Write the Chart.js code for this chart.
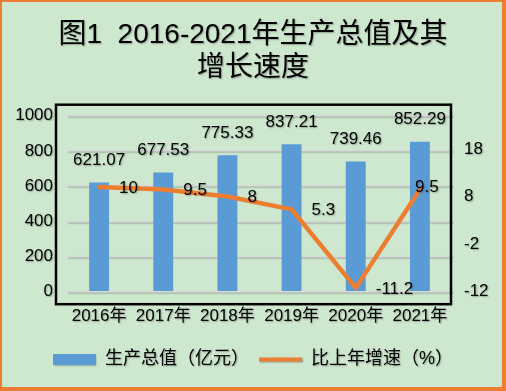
<!DOCTYPE html>
<html><head><meta charset="utf-8">
<script src="https://cdn.jsdelivr.net/npm/chart.js@4"></script>
<style>html,body{margin:0;padding:0;background:#cde8cf;} canvas{display:block}</style>
</head><body>
<canvas id="c" width="506" height="391"></canvas>
<script>
const titleLines = ['图1  2016-2021年生产总值及其', '增长速度'];
const categories = ['2016年', '2017年', '2018年', '2019年', '2020年', '2021年'];
const gdpValues = [621.07, 677.53, 775.33, 837.21, 739.46, 852.29];
const growthRates = [10, 9.5, 8, 5.3, -11.2, 9.5];
const leftTicks = [0, 200, 400, 600, 800, 1000];
const rightTicks = [-12, -2, 8, 18];
const seriesNames = ['生产总值（亿元）', '比上年增速（%）'];

const FONT = "'Liberation Sans', 'Noto Sans CJK SC', sans-serif";
const BLUE = '#5B9BD5', ORANGE = '#ED7D31', BG = '#cde8cf';

function textShadow(c, on) {
  c.shadowColor = on ? 'rgba(0,0,0,0.3)' : 'rgba(0,0,0,0)';
  c.shadowOffsetX = on ? 1 : 0;
  c.shadowOffsetY = on ? 1 : 0;
  c.shadowBlur = on ? 1.5 : 0;
}

const frame = {
  id: 'frame',
  beforeDraw(chart) {
    const c = chart.ctx;
    c.save();
    c.fillStyle = BG;
    c.fillRect(0, 0, chart.width, chart.height);
    c.fillStyle = ORANGE;
    c.fillRect(0, 0, chart.width, 2);
    c.fillRect(0, 0, 2, chart.height);
    c.fillRect(chart.width - 4, 0, 4, chart.height);
    c.fillRect(0, chart.height - 4, chart.width, 4);
    c.restore();
    textShadow(c, true);
  },
  beforeDatasetsDraw(chart) {
    textShadow(chart.ctx, false);
  },
  afterDraw(chart) {
    const a = chart.chartArea, c = chart.ctx;
    c.save();
    textShadow(c, false);
    c.strokeStyle = '#000';
    c.lineWidth = 2.5;
    c.strokeRect(a.left - 11, a.top - 11, (a.right - 1) - (a.left - 11), (a.bottom + 12.5) - (a.top - 11));
    c.restore();
  }
};

const valueLabels = {
  id: 'valueLabels',
  afterDatasetsDraw(chart) {
    const c = chart.ctx;
    textShadow(c, true);
    c.save();
    c.font = '17px ' + FONT;
    c.fillStyle = '#000';
    c.textBaseline = 'middle';
    c.textAlign = 'center';
    chart.getDatasetMeta(0).data.forEach((el, i) => {
      c.fillText(gdpValues[i].toFixed(2), el.x, el.y - 22);
    });
    const lm = chart.getDatasetMeta(1).data;
    lm.forEach((el, i) => {
      if (i === lm.length - 1) {
        c.textAlign = 'center';
        c.fillText(String(growthRates[i]), el.x + 7, el.y - 2);
      } else {
        c.textAlign = 'left';
        c.fillText(String(growthRates[i]), el.x + 20, el.y + 1);
      }
    });
    c.restore();
  }
};

new Chart(document.getElementById('c'), {
  data: {
    labels: categories,
    datasets: [
      { type: 'bar', label: seriesNames[0], data: gdpValues, yAxisID: 'y', backgroundColor: BLUE,
        barPercentage: 0.31, categoryPercentage: 1, order: 2 },
      { type: 'line', label: seriesNames[1], data: growthRates, yAxisID: 'y1', borderColor: ORANGE,
        backgroundColor: ORANGE, borderWidth: 4.5, pointRadius: 0, tension: 0, order: 1,
        borderCapStyle: 'round', borderJoinStyle: 'round' }
    ]
  },
  options: {
    responsive: false,
    devicePixelRatio: 1,
    animation: false,
    layout: { padding: { top: 0, bottom: 12.5, left: 0, right: 0 } },
    plugins: {
      tooltip: { enabled: false },
      title: {
        display: true, text: titleLines, color: '#000',
        font: { family: FONT, size: 28, weight: 'normal', lineHeight: 1.2 },
        padding: { top: 18, bottom: 30.5 }
      },
      legend: {
        position: 'bottom',
        labels: {
          usePointStyle: true, pointStyleWidth: 43, boxHeight: 11, padding: 10, color: '#000',
          font: { family: FONT, size: 18 },
          generateLabels: (chart) => [
            { text: chart.data.datasets[0].label, fillStyle: BLUE, strokeStyle: BLUE, lineWidth: 0,
              pointStyle: 'rect', datasetIndex: 0, hidden: false, fontColor: '#000' },
            { text: chart.data.datasets[1].label, fillStyle: ORANGE, strokeStyle: ORANGE, lineWidth: 4,
              pointStyle: 'line', datasetIndex: 1, hidden: false, fontColor: '#000' }
          ]
        }
      }
    },
    scales: {
      x: {
        grid: { display: false, drawTicks: false }, border: { display: false },
        ticks: { color: '#000', font: { family: FONT, size: 17 }, padding: 14, maxRotation: 0 },
        afterFit: (s) => { s.height = 48.8; }
      },
      y: {
        position: 'left', min: leftTicks[0], max: leftTicks[leftTicks.length - 1],
        grid: { color: '#d9d9d9', lineWidth: 1.5, drawTicks: false }, border: { display: false },
        ticks: { color: '#000', font: { family: FONT, size: 17 }, padding: 14, callback: (v) => String(v) },
        afterBuildTicks: (s) => { s.ticks = leftTicks.map(v => ({ value: v })); },
        afterFit: (s) => { s.width = 67; }
      },
      y1: {
        position: 'right', min: -12, max: 25,
        grid: { display: false, drawTicks: false }, border: { display: false },
        ticks: { color: '#000', font: { family: FONT, size: 17 }, padding: 12, callback: (v) => String(v) },
        afterBuildTicks: (s) => { s.ticks = rightTicks.map(v => ({ value: v })); },
        afterFit: (s) => { s.width = 54; }
      }
    }
  },
  plugins: [frame, valueLabels]
});
</script>
</body></html>
